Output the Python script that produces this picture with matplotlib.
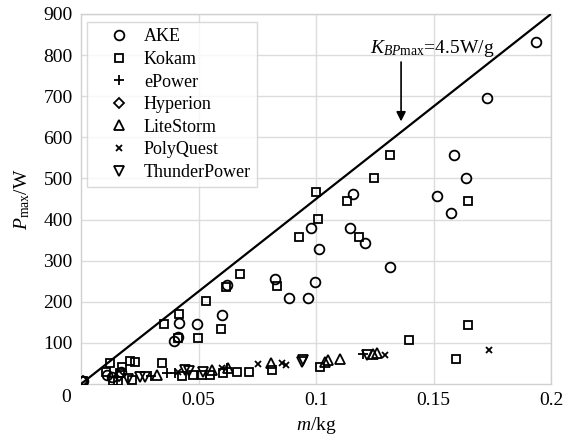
import matplotlib
matplotlib.use("Agg")
import matplotlib.pyplot as plt

plt.rcParams['font.family'] = ['Liberation Serif', 'DejaVu Serif']
plt.rcParams['mathtext.fontset'] = 'custom'
plt.rcParams['mathtext.rm'] = 'Liberation Serif'
plt.rcParams['mathtext.it'] = 'Liberation Serif:italic'

# ---- data (m in kg, Pmax in W) ----
ake_m = [0.001, 0.011, 0.013, 0.017, 0.0396, 0.0414, 0.0416, 0.0495, 0.0601, 0.062,
         0.0826, 0.0886, 0.0967, 0.0977, 0.0997, 0.1014, 0.1145, 0.1159, 0.1209, 0.1315,
         0.1514, 0.1574, 0.1587, 0.1638, 0.1726, 0.1936]
ake_p = [8, 22, 18, 30, 105, 114, 149, 146, 167, 241,
         255, 208, 208, 379, 249, 328, 379, 462, 342, 285,
         457, 417, 557, 500, 695, 833]

kokam_m = [0.001, 0.0105, 0.0123, 0.0138, 0.0156, 0.0166, 0.0173, 0.0209, 0.0216, 0.023,
           0.0343, 0.0355, 0.0411, 0.0418, 0.0431, 0.0478, 0.0497, 0.0513, 0.0532, 0.055,
           0.0597, 0.0606, 0.0617, 0.0662, 0.0677, 0.0716, 0.0814, 0.0833, 0.0928, 0.0999,
           0.101, 0.1017, 0.1133, 0.1184, 0.1247, 0.1315, 0.1397, 0.1596, 0.1646, 0.1646]
kokam_p = [8, 28, 50, 8, 8, 26, 42, 57, 10, 54,
           50, 146, 113, 170, 19, 22, 113, 22, 203, 22,
           135, 26, 236, 28, 268, 28, 34, 238, 358, 466,
           401, 41, 445, 358, 502, 557, 107, 61, 144, 445]

epower_m = [0.0298, 0.0365, 0.040, 0.062, 0.1201]
epower_p = [19, 26, 27, 40, 73]

hyperion_m = [0.001, 0.016]
hyperion_p = [8, 20]

litestorm_m = [0.0322, 0.0556, 0.0627, 0.0809, 0.1038, 0.1052, 0.1102, 0.1244, 0.1258]
litestorm_p = [22, 34, 40, 50, 54, 58, 62, 73, 75]

polyquest_m = [0.0414, 0.0599, 0.0752, 0.0854, 0.0871, 0.1294, 0.1737]
polyquest_p = [30, 38, 49, 50, 46, 70, 83]

thunder_m = [0.0201, 0.0251, 0.0272, 0.0443, 0.046, 0.052, 0.0939, 0.0946, 0.1216]
thunder_p = [11, 16, 18, 34, 32, 30, 54, 58, 71]

k_bp_max = 4.5          # W/g
line_m = [0.0, 0.2]     # kg
line_p = [k_bp_max * 1000 * v for v in line_m]

xticks = [0.05, 0.1, 0.15, 0.2]
xticklabels = ['0.05', '0.1', '0.15', '0.2']
yticks = [100, 200, 300, 400, 500, 600, 700, 800, 900]

# ---- figure ----
fig = plt.figure(figsize=(5.75, 4.37), dpi=100)
ax = fig.add_axes([81/575, 1-384/437, 470/575, 370/437])

ax.plot(line_m, line_p, color='black', lw=1.6, zorder=3)

mk = dict(linestyle='none', markerfacecolor='none', markeredgecolor='black',
          markeredgewidth=1.3, zorder=4)
ax.plot(ake_m, ake_p, marker='o', markersize=7, label='AKE', **mk)
ax.plot(kokam_m, kokam_p, marker='s', markersize=6, label='Kokam', **mk)
ax.plot(epower_m, epower_p, marker='+', markersize=7, label='ePower', **mk)
ax.plot(hyperion_m, hyperion_p, marker='D', markersize=5.5, label='Hyperion', **mk)
ax.plot(litestorm_m, litestorm_p, marker='^', markersize=7.5, label='LiteStorm', **mk)
ax.plot(polyquest_m, polyquest_p, marker='x', markersize=4.5, label='PolyQuest', **mk)
ax.plot(thunder_m, thunder_p, marker='v', markersize=7.5, label='ThunderPower', **mk)

ax.set_xlim(0, 0.2)
ax.set_ylim(0, 900)
ax.set_xticks(xticks)
ax.set_xticklabels(xticklabels)
ax.set_yticks(yticks)
ax.tick_params(length=0, labelsize=14, pad=6)
ax.grid(True, color='#dcdcdc', lw=1.0)
ax.set_axisbelow(True)
for s in ax.spines.values():
    s.set_color('#d0d0d0')
    s.set_linewidth(1.0)

ax.annotate('0', xy=(0, 0), xycoords='axes fraction', xytext=(-15, -14),
            textcoords='offset pixels', ha='center', va='center', fontsize=14)

ax.set_xlabel(r'$m$/kg', fontsize=14, labelpad=4)
ax.set_ylabel(r'$P_{\mathrm{max}}$/W', fontsize=14, labelpad=8)

ax.annotate('', xy=(0.1362, 632), xytext=(0.1362, 790),
            arrowprops=dict(arrowstyle='-|>', color='black', lw=1.2, mutation_scale=14),
            zorder=5)
ax.text(0.123, 805, r'$K_{BP\mathrm{max}}$=4.5W/g', fontsize=14, ha='left', va='baseline')

leg = ax.legend(loc='upper left', bbox_to_anchor=(6/470, 1-8/370), borderaxespad=0,
                fontsize=13, frameon=True, fancybox=False, edgecolor='#d0d0d0',
                borderpad=0.35, handlelength=2.8, handletextpad=0.0, labelspacing=0.31)
leg.get_frame().set_linewidth(1.0)

fig.savefig('out.png', dpi=100)
